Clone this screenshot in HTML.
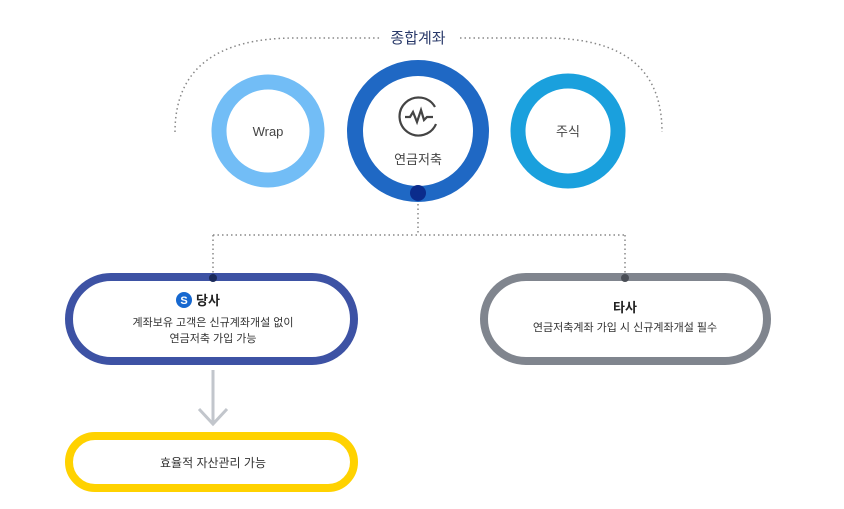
<!DOCTYPE html>
<html><head><meta charset="utf-8"><style>
html,body{margin:0;padding:0;background:#fff;}
svg{display:block;font-family:"Liberation Sans","Noto Sans CJK KR",sans-serif;}
</style></head><body>
<svg width="844" height="509" viewBox="0 0 844 509" xmlns="http://www.w3.org/2000/svg">
<g fill="none" stroke="#888" stroke-width="1.5" stroke-dasharray="1.5 3">
<path d="M175,132 C175,70 215,38 295,38 L382,38"/>
<path d="M460,38 L545,38 C625,38 662,70 662,132"/>
<path d="M418,195 L418,235 M213,235 L625,235 M213,235 L213,278 M625,235 L625,278"/>
</g>
<text x="418" y="43" text-anchor="middle" font-size="15" fill="#2a3a6a">종합계좌</text>
<circle cx="268" cy="131" r="49" fill="none" stroke="#72bdf6" stroke-width="15"/>
<text x="268" y="136" text-anchor="middle" font-size="13" fill="#444">Wrap</text>
<circle cx="418" cy="131" r="63" fill="none" stroke="#1f68c4" stroke-width="16"/>
<circle cx="418" cy="193" r="8" fill="#0b2c8c"/>
<path d="M435,107 A19,19 0 1 0 436,124" fill="none" stroke="#444" stroke-width="2.2"/>
<path d="M405,117 L410,117 L413,112 L417,122 L421,110 L424,120 L427,117 L433,117" fill="none" stroke="#444" stroke-width="2.2"/>
<text x="418" y="164" text-anchor="middle" font-size="13" fill="#444">연금저축</text>
<circle cx="568" cy="131" r="50" fill="none" stroke="#1aa0dd" stroke-width="15"/>
<text x="568" y="136" text-anchor="middle" font-size="13" fill="#444">주식</text>
<rect x="69" y="277" width="285" height="84" rx="42" fill="#fff" stroke="#3d52a4" stroke-width="8"/>
<circle cx="213" cy="278" r="4" fill="#1b2a5a"/>
<circle cx="184" cy="300" r="8" fill="#1668d0"/>
<text x="184" y="304" text-anchor="middle" font-size="11" font-weight="bold" fill="#fff">S</text>
<text x="196" y="305" font-size="13" font-weight="bold" fill="#222">당사</text>
<text x="213" y="326" text-anchor="middle" font-size="11" fill="#333">계좌보유 고객은 신규계좌개설 없이</text>
<text x="213" y="342" text-anchor="middle" font-size="11" fill="#333">연금저축 가입 가능</text>
<rect x="484" y="277" width="283" height="84" rx="42" fill="#fff" stroke="#80858e" stroke-width="8"/>
<circle cx="625" cy="278" r="4" fill="#4a4e56"/>
<text x="625" y="312" text-anchor="middle" font-size="13" font-weight="bold" fill="#222">타사</text>
<text x="625" y="331" text-anchor="middle" font-size="11" fill="#333">연금저축계좌 가입 시 신규계좌개설 필수</text>
<g stroke="#c2c6cc" stroke-width="3" fill="none">
<path d="M213,370 L213,424"/><path d="M199,409 L213,424 L227,409"/>
</g>
<rect x="69" y="436" width="285" height="52" rx="26" fill="#fff" stroke="#ffd200" stroke-width="8"/>
<text x="213" y="467" text-anchor="middle" font-size="12" fill="#333">효율적 자산관리 가능</text>
</svg>
</body></html>
